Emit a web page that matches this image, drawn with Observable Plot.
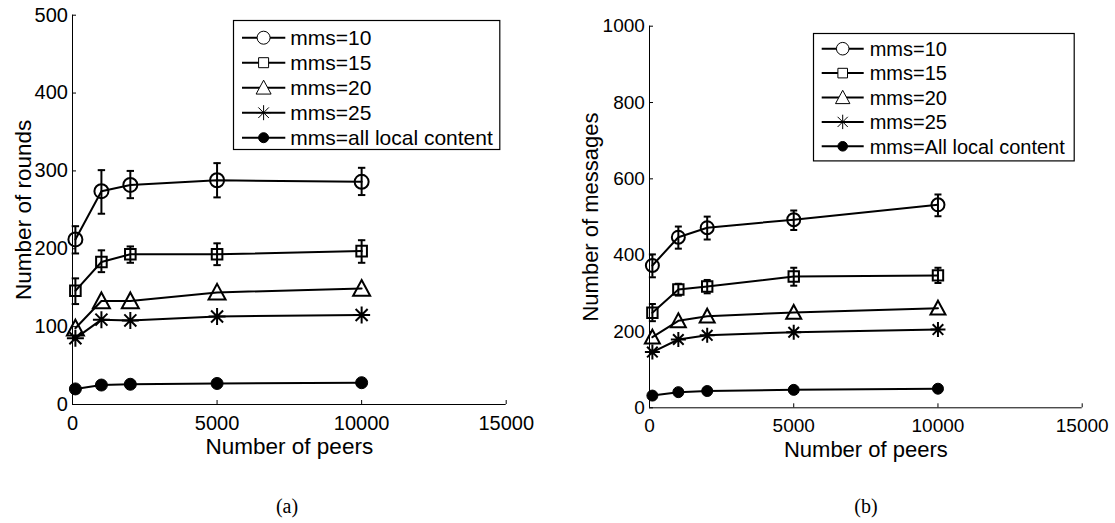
<!DOCTYPE html>
<html><head><meta charset="utf-8">
<script src="https://cdn.jsdelivr.net/npm/d3@7"></script>
<script src="https://cdn.jsdelivr.net/npm/@observablehq/plot@0.6"></script>
<style>
body{margin:0;background:#fff;}
#wrap{position:relative;width:1115px;height:523px;background:#fff;font-family:"Liberation Sans",Arial,sans-serif;overflow:hidden;}
.panel{position:absolute;top:0;}
.legend{position:absolute;overflow:visible;}
.cap{position:absolute;font-family:"Liberation Serif","DejaVu Serif",serif;font-size:20px;transform:translate(-50%,-50%);color:#000;}
</style></head><body><div id="wrap"></div>
<script>
// ---------- data ----------
const peers = [100, 1000, 2000, 5000, 10000];
const xTicks = [0, 5000, 10000, 15000];
const yTicksA = [0, 100, 200, 300, 400, 500];
const yTicksB = [0, 200, 400, 600, 800, 1000];
const namesA = ["mms=10", "mms=15", "mms=20", "mms=25", "mms=all local content"];
const namesB = ["mms=10", "mms=15", "mms=20", "mms=25", "mms=All local content"];
const xLabel = "Number of peers";
const yLabelA = "Number of rounds";
const yLabelB = "Number of messages";
const captions = ["(a)", "(b)"];

// (a) number of rounds
const roundsMms10 = [212, 274, 282, 288, 286];
const roundsMms10Low = [194, 245, 265, 266, 269];
const roundsMms10High = [229, 301, 300, 310, 304];
const roundsMms15 = [146, 183, 193, 193, 197];
const roundsMms15Low = [129, 170, 182, 179, 182];
const roundsMms15High = [162, 198, 203, 207, 211];
const roundsMms20 = [98, 133, 133, 144, 149];
const roundsMms25 = [85, 109, 108, 113, 115];
const roundsAll = [20, 25, 26, 27, 28];

// (b) number of messages
const msgMms10 = [373, 447, 472, 493, 532];
const msgMms10Low = [342, 417, 441, 466, 502];
const msgMms10High = [402, 475, 501, 517, 559];
const msgMms15 = [249, 310, 318, 344, 347];
const msgMms15Low = [227, 294, 300, 320, 327];
const msgMms15High = [272, 325, 335, 367, 367];
const msgMms20 = [185, 228, 240, 250, 261];
const msgMms25 = [146, 179, 190, 198, 205];
const msgAll = [32, 41, 44, 47, 50];

// ---------- symbols ----------
const symSquare = {draw(c, s) { const r = Math.sqrt(s / Math.PI); c.moveTo(-r, -r); c.lineTo(r, -r); c.lineTo(r, r); c.lineTo(-r, r); c.closePath(); }};
const symTriangle = {draw(c, s) { const r = Math.sqrt(s / Math.PI); c.moveTo(0, -r); c.lineTo(r, 0.85 * r); c.lineTo(-r, 0.85 * r); c.closePath(); }};
const symAsterisk = {draw(c, s) { const r = Math.sqrt(s / Math.PI), d = r * Math.SQRT1_2;
  c.moveTo(-r, 0); c.lineTo(r, 0); c.moveTo(0, -r); c.lineTo(0, r);
  c.moveTo(-d, -d); c.lineTo(d, d); c.moveTo(-d, d); c.lineTo(d, -d); }};
const symCap = {draw(c, s) { const r = Math.sqrt(s / Math.PI); c.moveTo(-r, 0); c.lineTo(r, 0); }};
const symCircle = {draw(c, s) { const r = Math.sqrt(s / Math.PI); c.moveTo(r, 0); c.arc(0, 0, r, 0, 2 * Math.PI); }};

const rows = (ys, lo, hi) => peers.map((p, i) => ({x: p, y: ys[i], lo: lo ? lo[i] : null, hi: hi ? hi[i] : null}));

function panel(cfg) {
  const marks = [
    Plot.ruleX([0], {stroke: "black", strokeWidth: 1}),
    Plot.ruleY([0], {stroke: "black", strokeWidth: 1}),
    Plot.axisX({ticks: xTicks, tickFormat: d => String(d), tickSize: -4, tickPadding: 15, label: null}),
    Plot.axisY({ticks: cfg.yTicks, tickFormat: d => String(d), tickSize: -4, tickPadding: 8.6, label: null}),
    Plot.text([xLabel], {frameAnchor: "bottom", dy: cfg.xLabelDy, fontSize: cfg.labelSize, lineAnchor: "middle", textAnchor: "middle", fill: "black"}),
    Plot.text([cfg.yLabel], {frameAnchor: "left", dx: cfg.yLabelDx, rotate: -90, fontSize: cfg.labelSize, lineAnchor: "middle", textAnchor: "middle", fill: "black"})
  ];
  for (const s of cfg.series) {
    const data = rows(s.values, s.low, s.high);
    marks.push(Plot.line(data, {x: "x", y: "y", stroke: "black", strokeWidth: 2}));
    if (s.low) {
      marks.push(Plot.ruleX(data, {x: "x", y1: "lo", y2: "hi", stroke: "black", strokeWidth: 2}));
      marks.push(Plot.dot(data, {x: "x", y: "lo", symbol: symCap, r: cfg.capR, stroke: "black", fill: "none", strokeWidth: 2}));
      marks.push(Plot.dot(data, {x: "x", y: "hi", symbol: symCap, r: cfg.capR, stroke: "black", fill: "none", strokeWidth: 2}));
    }
    marks.push(Plot.dot(data, {x: "x", y: "y", symbol: s.symbol, r: s.r, stroke: "black",
      fill: s.filled ? "black" : "none", strokeWidth: s.filled ? 1 : 2}));
  }
  return Plot.plot({
    width: cfg.width, height: cfg.height,
    marginLeft: cfg.ml, marginRight: cfg.mr, marginTop: cfg.mt, marginBottom: cfg.mb,
    x: {domain: [0, 15000]},
    y: {domain: cfg.yDomain},
    style: {fontFamily: '"Liberation Sans", Arial, sans-serif', fontSize: cfg.tickSize + "px", color: "black", background: "white", overflow: "visible"},
    marks
  });
}

function legend(cfg) {
  const svg = d3.create("svg").attr("class", "legend")
    .attr("width", cfg.w).attr("height", cfg.h)
    .style("left", cfg.left + "px").style("top", cfg.top + "px");
  svg.append("rect").attr("x", 0.5).attr("y", 0.5).attr("width", cfg.w - 1).attr("height", cfg.h - 1)
    .attr("fill", "white").attr("stroke", "black").attr("stroke-width", 1.2);
  cfg.names.forEach((name, i) => {
    const y = cfg.y0 + i * cfg.dy;
    const g = svg.append("g");
    g.append("line").attr("x1", cfg.lx1).attr("x2", cfg.lx2).attr("y1", y).attr("y2", y)
      .attr("stroke", "black").attr("stroke-width", 2);
    const m = cfg.marks[i];
    g.append("path").attr("transform", `translate(${cfg.mx},${y})`)
      .attr("d", d3.symbol(m.symbol, Math.PI * m.r * m.r)())
      .attr("fill", m.filled ? "black" : "white").attr("stroke", "black").attr("stroke-width", 1);
    g.append("text").attr("x", cfg.tx).attr("y", y).attr("dy", "0.36em")
      .attr("font-family", '"Liberation Sans", Arial, sans-serif').attr("font-size", cfg.fontSize)
      .attr("fill", "black").text(name);
  });
  return svg.node();
}

const wrap = document.getElementById("wrap");

const a = panel({
  width: 560, height: 470, ml: 72, mr: 54.3, mt: 14.7, mb: 66,
  yDomain: [0, 500], yTicks: yTicksA, yLabel: yLabelA, tickSize: 20, labelSize: 22.5,
  xLabelDy: 42, yLabelDx: -49, capR: 3.7,
  series: [
    {values: roundsMms10, low: roundsMms10Low, high: roundsMms10High, symbol: symCircle, r: 7},
    {values: roundsMms15, low: roundsMms15Low, high: roundsMms15High, symbol: symSquare, r: 5.3},
    {values: roundsMms20, symbol: symTriangle, r: 8.5},
    {values: roundsMms25, symbol: symAsterisk, r: 8.5},
    {values: roundsAll, symbol: symCircle, r: 6, filled: true}
  ]
});
a.classList.add("panel"); a.style.left = "0px";
wrap.appendChild(a);

const b = panel({
  width: 555, height: 470, ml: 89, mr: 33.3, mt: 25.7, mb: 62.7,
  yDomain: [0, 1000], yTicks: yTicksB, yLabel: yLabelB, tickSize: 19, labelSize: 22,
  xLabelDy: 42, yLabelDx: -59, capR: 3.5,
  series: [
    {values: msgMms10, low: msgMms10Low, high: msgMms10High, symbol: symCircle, r: 6.5},
    {values: msgMms15, low: msgMms15Low, high: msgMms15High, symbol: symSquare, r: 5.2},
    {values: msgMms20, symbol: symTriangle, r: 7.5},
    {values: msgMms25, symbol: symAsterisk, r: 7.5},
    {values: msgAll, symbol: symCircle, r: 5.5, filled: true}
  ]
});
b.classList.add("panel"); b.style.left = "560px";
wrap.appendChild(b);

const legMarksA = [
  {symbol: symCircle, r: 6.5}, {symbol: symSquare, r: 5}, {symbol: symTriangle, r: 7.5},
  {symbol: symAsterisk, r: 7.5}, {symbol: symCircle, r: 5, filled: true}
];
const legMarksB = [
  {symbol: symCircle, r: 6.3}, {symbol: symSquare, r: 4.8}, {symbol: symTriangle, r: 7.2},
  {symbol: symAsterisk, r: 7.2}, {symbol: symCircle, r: 4.8, filled: true}
];
wrap.appendChild(legend({left: 232.7, top: 20, w: 267.3, h: 130, y0: 17.7, dy: 25,
  lx1: 9, lx2: 52.3, mx: 30.6, tx: 57.3, fontSize: 21, names: namesA, marks: legMarksA}));
wrap.appendChild(legend({left: 813.3, top: 33.3, w: 261.7, h: 128.4, y0: 15.7, dy: 24.4,
  lx1: 8.7, lx2: 50.7, mx: 29.7, tx: 56.7, fontSize: 20, names: namesB, marks: legMarksB}));

[[captions[0], 287], [captions[1], 866]].forEach(([t, x]) => {
  const d = document.createElement("div");
  d.className = "cap"; d.textContent = t;
  d.style.left = x + "px"; d.style.top = "506px";
  wrap.appendChild(d);
});
</script></body></html>
